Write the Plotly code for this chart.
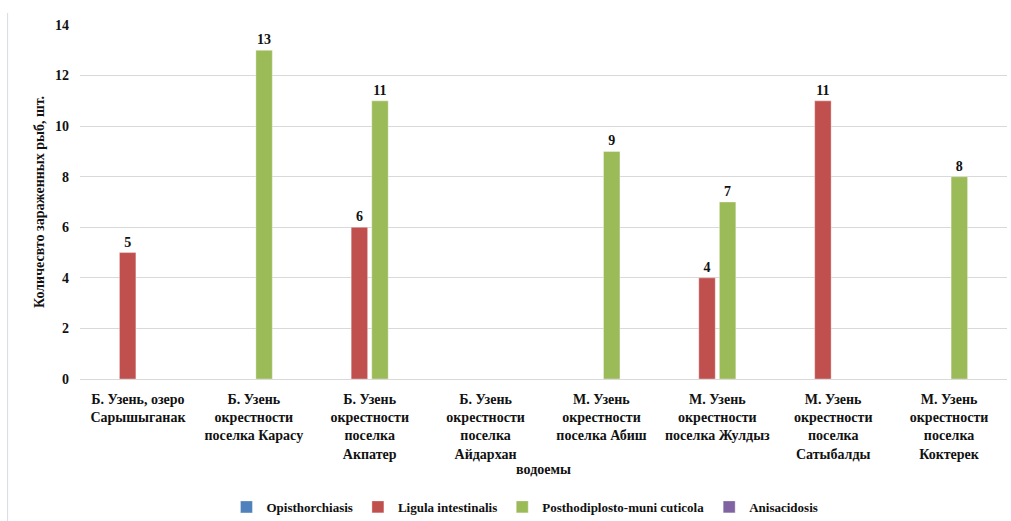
import plotly.graph_objects as go

categories = [
    "Б. Узень, озеро<br>Сарышыганак",
    "Б. Узень<br>окрестности<br>поселка Карасу",
    "Б. Узень<br>окрестности<br>поселка<br>Акпатер",
    "Б. Узень<br>окрестности<br>поселка<br>Айдархан",
    "М. Узень<br>окрестности<br>поселка Абиш",
    "М. Узень<br>окрестности<br>поселка Жулдыз",
    "М. Узень<br>окрестности<br>поселка<br>Сатыбалды",
    "М. Узень<br>окрестности<br>поселка<br>Коктерек",
]

opisthorchiasis = [0, 0, 0, 0, 0, 0, 0, 0]
ligula = [5, 0, 6, 0, 0, 4, 11, 0]
posthodiplostomum = [0, 13, 11, 0, 9, 7, 0, 8]
anisacidosis = [0, 0, 0, 0, 0, 0, 0, 0]

series = [
    ("Opisthorchiasis", opisthorchiasis, "#4F81BD"),
    ("Ligula intestinalis", ligula, "#C0504D"),
    ("Posthodiplosto-muni cuticola", posthodiplostomum, "#9BBB59"),
    ("Anisacidosis", anisacidosis, "#8064A2"),
]

FONT = "Times New Roman, Liberation Serif, serif"

fig = go.Figure()
for name, vals, color in series:
    fig.add_trace(go.Bar(
        name=name,
        x=categories,
        y=vals,
        marker=dict(color=color, line=dict(color="rgba(255,255,255,0.35)", width=1)),
        text=[str(v) if v else "" for v in vals],
        textposition="outside",
        textfont=dict(family=FONT, size=14, color="#111111", weight="bold"),
        cliponaxis=False,
    ))

fig.update_layout(
    width=1011,
    height=521,
    margin=dict(l=80, r=4, t=25, b=142),
    paper_bgcolor="white",
    plot_bgcolor="white",
    barmode="group",
    bargap=0.29,
    bargroupgap=0.2,
    font=dict(family=FONT, color="#111111"),
    xaxis=dict(
        automargin=False,
        tickfont=dict(family=FONT, size=14, weight="bold"),
        showgrid=False,
        showline=False,
        ticks="",
        ticklabelstandoff=10,
        title=dict(text="водоемы", font=dict(family=FONT, size=14, weight="bold"), standoff=0),
    ),
    yaxis=dict(
        automargin=False,
        range=[0, 14],
        dtick=2,
        tickfont=dict(family=FONT, size=14, weight="bold"),
        showgrid=True,
        gridcolor="#D9D9D9",
        gridwidth=1,
        zeroline=True,
        zerolinecolor="#D9D9D9",
        zerolinewidth=1,
        ticks="",
        ticklabelstandoff=10,
        title=dict(text="Количесвто зараженных рыб, шт.", font=dict(family=FONT, size=14, weight="bold"), standoff=7),
    ),
    legend=dict(
        orientation="h",
        x=0.48,
        xanchor="center",
        yref="container",
        y=0.027,
        yanchor="middle",
        font=dict(family=FONT, size=13, weight="bold"),
        itemwidth=30,
        traceorder="normal",
    ),
    shapes=[
        dict(type="line", xref="paper", yref="paper",
             x0=-0.0781, x1=-0.0781, y0=1.034, y1=-0.41,
             line=dict(color="#D5DBE6", width=1)),
    ],
)

fig.write_html("out.html")
